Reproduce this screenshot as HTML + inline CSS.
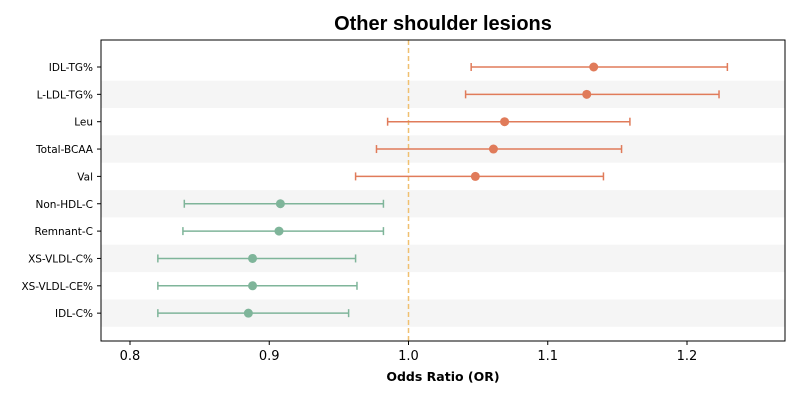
<!DOCTYPE html>
<html><head><meta charset="utf-8"><style>
body{margin:0;background:#fff;font-family:"DejaVu Sans","Liberation Sans",sans-serif}
</style></head><body>
<svg id="chart" width="800" height="400" xmlns="http://www.w3.org/2000/svg"></svg>
<script>
const categories=["IDL-TG%","L-LDL-TG%","Leu","Total-BCAA","Val","Non-HDL-C","Remnant-C","XS-VLDL-C%","XS-VLDL-CE%","IDL-C%"];
const orValues=[1.133,1.128,1.069,1.061,1.048,0.908,0.907,0.888,0.888,0.885];
const ciLower=[1.045,1.041,0.985,0.977,0.962,0.839,0.838,0.820,0.820,0.820];
const ciUpper=[1.229,1.223,1.159,1.153,1.140,0.982,0.982,0.962,0.963,0.957];
const xTicks=[0.8,0.9,1.0,1.1,1.2];
const xTickLabels=["0.8","0.9","1.0","1.1","1.2"];
const NS="http://www.w3.org/2000/svg";
const svg=document.getElementById('chart');
const L=101,R=785,T=40,B=341;
const x=v=>130+(v-0.8)*1392.5;
const y=i=>67+i*27.35;
function mk(t,a,p){const e=document.createElementNS(NS,t);for(const k in a)e.setAttribute(k,a[k]);(p||svg).appendChild(e);return e;}
mk('rect',{x:L,y:T,width:R-L,height:B-T,fill:'#fff'});
categories.forEach((c,i)=>{
 if(i%2==1){const s=mk('rect',{x:L,y:y(i)-13.7,width:R-L,height:27.35,fill:'#f5f5f5'});
 
 }
});
const ref=mk('line',{x1:x(1),x2:x(1),y1:T,y2:B,stroke:'#f0c070','stroke-width':1.5,'stroke-dasharray':'5,3'});


categories.forEach((c,i)=>{
 const col=orValues[i]>1?'#e07b5a':'#7fb59a';
 const g=mk('g',{});
 
 
 const yy=y(i);
 mk('line',{x1:x(ciLower[i]),x2:x(ciUpper[i]),y1:yy,y2:yy,stroke:col,'stroke-width':1.5},g);
 mk('line',{x1:x(ciLower[i]),x2:x(ciLower[i]),y1:yy-4,y2:yy+4,stroke:col,'stroke-width':1.5},g);
 mk('line',{x1:x(ciUpper[i]),x2:x(ciUpper[i]),y1:yy-4,y2:yy+4,stroke:col,'stroke-width':1.5},g);
 mk('circle',{cx:x(orValues[i]),cy:yy,r:4.5,fill:col},g);
 const t=mk('text',{x:L-8,y:yy+4,'text-anchor':'end','font-size':10.5,fill:'#000'});
 t.textContent=c;
 
 
 mk('line',{x1:L-4,x2:L,y1:yy,y2:yy,stroke:'#000'});
});
const frame=mk('rect',{x:L,y:T,width:R-L,height:B-T,fill:'none',stroke:'#000','stroke-width':1});


xTicks.forEach((v,i)=>{
 mk('line',{x1:x(v),x2:x(v),y1:B,y2:B+4,stroke:'#000'});
 const t=mk('text',{x:x(v),y:B+19,'text-anchor':'middle','font-size':13,fill:'#000'});
 t.textContent=xTickLabels[i];
 
 
});
const xt=mk('text',{x:(L+R)/2,y:381,'text-anchor':'middle','font-size':12.5,'font-weight':'bold'});
xt.textContent='Odds Ratio (OR)';


const tt=mk('text',{x:(L+R)/2,y:30,'text-anchor':'middle','font-size':20,'font-weight':'bold','font-family':'Liberation Sans, sans-serif'});
tt.textContent='Other shoulder lesions';


</script>
</body></html>
